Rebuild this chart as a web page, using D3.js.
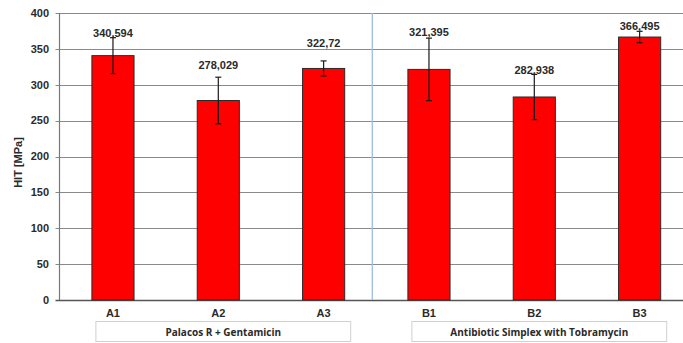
<!DOCTYPE html>
<html>
<head>
<meta charset="utf-8">
<script src="https://cdn.jsdelivr.net/npm/d3@7/dist/d3.min.js"></script>
<style>
  html, body { margin: 0; padding: 0; background: #fff; }
  svg { display: block; }
  text { font-family: "Liberation Sans", Arial, sans-serif; font-weight: bold; fill: #2a2a2a; }
</style>
</head>
<body>
<svg id="chart" width="683" height="343"></svg>
<script>
// Hardness (HIT) of bone-cement samples
const categories = ["A1", "A2", "A3", "B1", "B2", "B3"];
const hitValues = [340.594, 278.029, 322.72, 321.395, 282.938, 366.495];
const hitErrors = [25, 32.5, 10.5, 43.6, 31.5, 8];
const valueLabels = ["340,594", "278,029", "322,72", "321,395", "282,938", "366,495"];
const labelLevels = [372, 327.5, 358, 373.5, 320.5, 382];
const groups = ["Palacos R + Gentamicin", "Antibiotic Simplex with Tobramycin"];
const yTicks = [0, 50, 100, 150, 200, 250, 300, 350, 400];

const svg = d3.select("#chart");
const plot = { left: 59.5, right: 683, top: 13, bottom: 300 };

const x = d3.scaleBand()
  .domain(categories)
  .range([60.3, 692.3])
  .paddingInner(0.6)
  .paddingOuter(0.3);

const y = d3.scaleLinear().domain([0, 400]).range([plot.bottom, plot.top]);

// horizontal grid
svg.append("g")
  .selectAll("line")
  .data(yTicks)
  .join("line")
  .attr("x1", plot.left - 4)
  .attr("x2", plot.right)
  .attr("y1", d => Math.round(y(d)) + 0.5)
  .attr("y2", d => Math.round(y(d)) + 0.5)
  .attr("stroke", d => d === 0 ? "#555" : "#8a8a8a")
  .attr("stroke-width", d => d === 0 ? 1.5 : 1);

// y axis line
svg.append("line")
  .attr("x1", plot.left).attr("x2", plot.left)
  .attr("y1", y(400)).attr("y2", y(0))
  .attr("stroke", "#777").attr("stroke-width", 1.2);

// y tick labels
svg.append("g")
  .selectAll("text")
  .data(yTicks)
  .join("text")
  .attr("x", 49)
  .attr("y", d => y(d))
  .attr("dy", "0.35em")
  .attr("text-anchor", "end")
  .attr("font-size", 11)
  .text(d => d);

// y axis title
svg.append("text")
  .attr("transform", `translate(22,${(y(400) + y(0)) / 2 + 6}) rotate(-90)`)
  .attr("text-anchor", "middle")
  .attr("font-size", 11)
  .text("HIT [MPa]");

// group separator
const sepX = (x("A3") + x.bandwidth() + x("B1")) / 2 - 4;
svg.append("line")
  .attr("x1", sepX).attr("x2", sepX)
  .attr("y1", y(400)).attr("y2", y(0))
  .attr("stroke", "#9dbde3").attr("stroke-width", 1.3);

// bars
svg.append("g")
  .selectAll("rect")
  .data(categories)
  .join("rect")
  .attr("x", d => x(d))
  .attr("width", x.bandwidth())
  .attr("y", (d, i) => y(hitValues[i]))
  .attr("height", (d, i) => y(0) - y(hitValues[i]))
  .attr("fill", "#ff0000")
  .attr("stroke", "#2a2a2a")
  .attr("stroke-width", 1);

// error bars
const eb = svg.append("g").attr("stroke", "#1a1a1a").attr("stroke-width", 1.2);
categories.forEach((c, i) => {
  const cx = x(c) + x.bandwidth() / 2;
  const hi = y(hitValues[i] + hitErrors[i]);
  const lo = y(hitValues[i] - hitErrors[i]);
  eb.append("line").attr("x1", cx).attr("x2", cx).attr("y1", hi).attr("y2", lo);
  eb.append("line").attr("x1", cx - 3).attr("x2", cx + 3).attr("y1", hi).attr("y2", hi);
  eb.append("line").attr("x1", cx - 3).attr("x2", cx + 3).attr("y1", lo).attr("y2", lo);
});

// value labels
svg.append("g")
  .selectAll("text")
  .data(categories)
  .join("text")
  .attr("x", d => x(d) + x.bandwidth() / 2)
  .attr("y", (d, i) => y(labelLevels[i]))
  .attr("dy", "0.35em")
  .attr("text-anchor", "middle")
  .attr("font-size", 11)
  .text((d, i) => valueLabels[i]);

// category labels
svg.append("g")
  .selectAll("text")
  .data(categories)
  .join("text")
  .attr("x", d => x(d) + x.bandwidth() / 2)
  .attr("y", 313)
  .attr("dy", "0.35em")
  .attr("text-anchor", "middle")
  .attr("font-size", 11)
  .text(d => d);

// group boxes
const groupSpans = [["A1", "A3"], ["B1", "B3"]];
groupSpans.forEach(([a, b], i) => {
  const x0 = x(a) + 4;
  const x1 = x(b) + x.bandwidth() + 6;
  svg.append("rect")
    .attr("x", x0).attr("y", 321.5)
    .attr("width", x1 - x0).attr("height", 20)
    .attr("fill", "none")
    .attr("stroke", "#d0d0d0");
  svg.append("text")
    .attr("x", (x0 + x1) / 2)
    .attr("y", 332)
    .attr("dy", "0.35em")
    .attr("text-anchor", "middle")
    .attr("font-size", 10)
    .style("font-family", "'Open Sans', sans-serif")
    .style("font-weight", "700")
    .text(groups[i]);
});
</script>
</body>
</html>
